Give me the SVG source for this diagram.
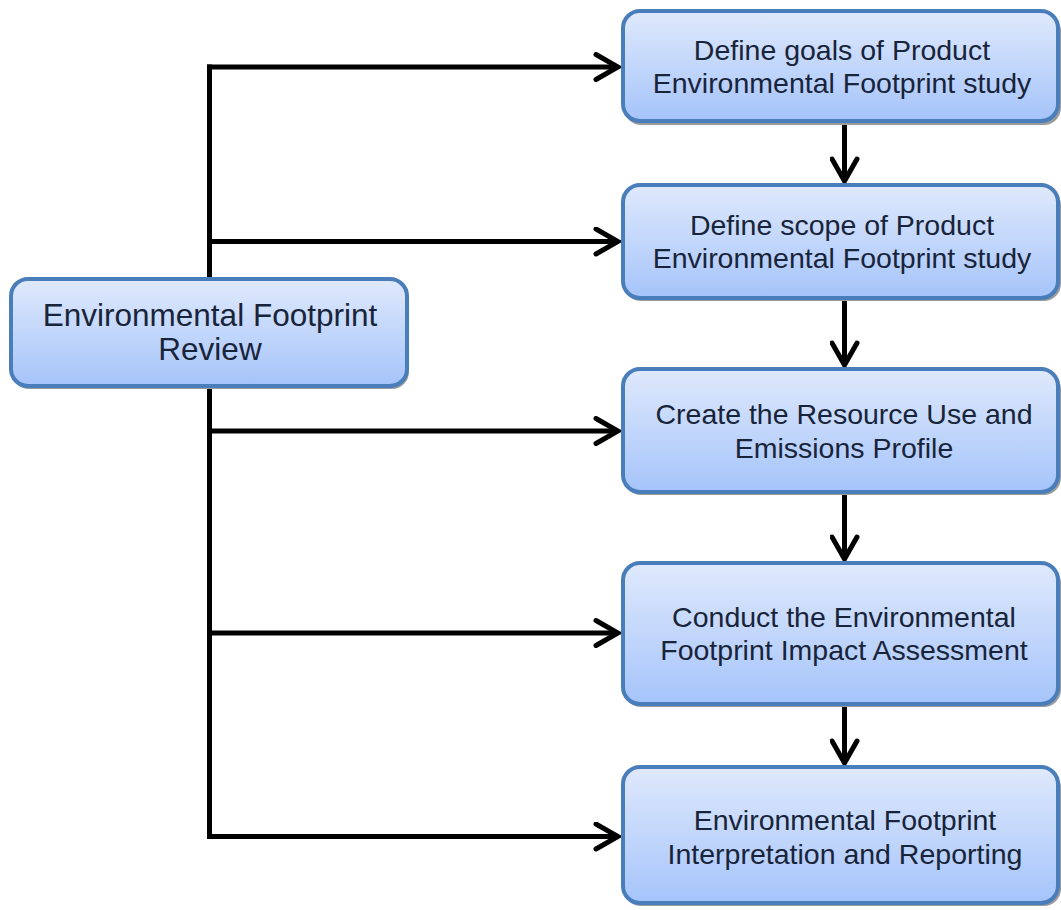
<svg xmlns="http://www.w3.org/2000/svg" width="1061" height="910" viewBox="0 0 1061 910">
<defs>
<linearGradient id="fill" x1="0" y1="0" x2="0" y2="1">
<stop offset="0" stop-color="#dfe9fc"/>
<stop offset="1" stop-color="#a5c4fa"/>
</linearGradient>
<marker id="ah" viewBox="0 0 30 30" refX="26" refY="15" markerWidth="30" markerHeight="30" markerUnits="userSpaceOnUse" orient="auto">
<path d="M4 2.5 L26 15 L4 27.5" fill="none" stroke="#000" stroke-width="5" stroke-linecap="round" stroke-linejoin="miter"/>
</marker>
</defs>
<style>
.box{fill:url(#fill);stroke:#4a7ebb;stroke-width:4}
.shadow{fill:#9c9c9c;stroke:none}
.t{font-family:"Liberation Sans",Arial,sans-serif;fill:#18243a;text-anchor:middle}
.r{font-size:28.5px}
.l{font-size:31.5px}
.c{fill:none;stroke:#000;stroke-width:5}
</style>
<rect width="1061" height="910" fill="#fff"/>
<g id="connectors">
<path class="c" d="M209.5 67 V836.5" stroke-linecap="square"/>
<path class="c" d="M207 67 H618" marker-end="url(#ah)"/>
<path class="c" d="M209.5 241.5 H618" marker-end="url(#ah)"/>
<path class="c" d="M209.5 431 H618" marker-end="url(#ah)"/>
<path class="c" d="M209.5 633 H618" marker-end="url(#ah)"/>
<path class="c" d="M207 836.5 H618" marker-end="url(#ah)"/>
<path class="c" d="M844.5 123 V181" marker-end="url(#ah)"/>
<path class="c" d="M844.5 300 V365" marker-end="url(#ah)"/>
<path class="c" d="M844.5 494 V559" marker-end="url(#ah)"/>
<path class="c" d="M844.5 706 V763" marker-end="url(#ah)"/>
</g>
<g id="review">
<rect class="shadow" x="12" y="282" width="397" height="107" rx="17"/>
<rect class="box" x="11" y="279" width="396" height="107" rx="17"/>
<text class="t l" x="210" y="326">Environmental Footprint</text>
<text class="t l" x="210" y="360">Review</text>
</g>
<g id="goals">
<rect class="shadow" x="624" y="14" width="437" height="111" rx="17"/>
<rect class="box" x="623" y="11" width="435" height="110" rx="17"/>
<text class="t r" x="842" y="60">Define goals of Product</text>
<text class="t r" x="842" y="93">Environmental Footprint study</text>
</g>
<g id="scope">
<rect class="shadow" x="624" y="188" width="437" height="113" rx="17"/>
<rect class="box" x="623" y="185" width="435" height="113" rx="17"/>
<text class="t r" x="842" y="235">Define scope of Product</text>
<text class="t r" x="842" y="268">Environmental Footprint study</text>
</g>
<g id="profile">
<rect class="shadow" x="624" y="372" width="437" height="123" rx="17"/>
<rect class="box" x="623" y="369" width="435" height="123" rx="17"/>
<text class="t r" x="844" y="424">Create the Resource Use and</text>
<text class="t r" x="844" y="458">Emissions Profile</text>
</g>
<g id="assessment">
<rect class="shadow" x="624" y="566" width="437" height="141" rx="17"/>
<rect class="box" x="623" y="563" width="435" height="141" rx="17"/>
<text class="t r" x="844" y="627">Conduct the Environmental</text>
<text class="t r" x="844" y="660">Footprint Impact Assessment</text>
</g>
<g id="reporting">
<rect class="shadow" x="624" y="770" width="437" height="136" rx="17"/>
<rect class="box" x="623" y="767" width="435" height="136" rx="17"/>
<text class="t r" x="845" y="830">Environmental Footprint</text>
<text class="t r" x="845" y="864">Interpretation and Reporting</text>
</g>
</svg>
